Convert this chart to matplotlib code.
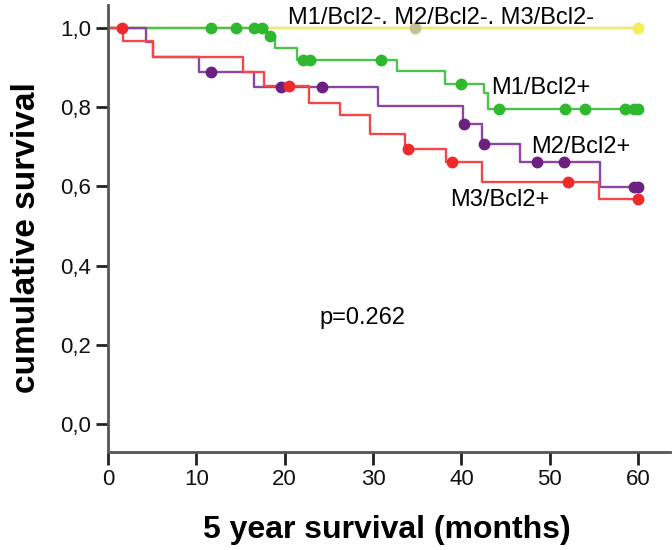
import numpy as np
import matplotlib.pyplot as plt
from matplotlib.ticker import FuncFormatter

plt.rcParams['font.family'] = ['Liberation Sans', 'DejaVu Sans']

# Kaplan-Meier steps: event times (months) and survival after each event
red_times = [0, 1.7, 5.05, 15.3, 17.6, 22.7, 26.2, 29.7, 33.6, 38.3, 42.3, 55.6]
red_surv = [1.0, 0.966, 0.925, 0.887, 0.852, 0.811, 0.779, 0.733, 0.695, 0.660, 0.611, 0.567]
red_cens = [1.55, 20.5, 33.9, 38.9, 52.1, 60.0]

purple_times = [0, 4.3, 5.05, 10.3, 16.5, 30.6, 40.2, 42.3, 46.6, 55.7]
purple_surv = [1.0, 0.964, 0.925, 0.887, 0.849, 0.803, 0.758, 0.707, 0.660, 0.597]
purple_cens = [11.7, 19.6, 24.2, 40.3, 42.6, 48.6, 51.6, 59.5, 60.0]

green_times = [0, 17.95, 18.9, 21.4, 32.7, 38.1, 42.6, 43.0]
green_surv = [1.0, 0.979, 0.948, 0.918, 0.890, 0.857, 0.834, 0.796]
green_cens = [11.7, 14.5, 16.5, 17.4, 18.3, 22.1, 22.9, 30.95, 40.0, 44.3,
              51.7, 53.96, 58.5, 59.5, 60.0]

khaki_times = [0]
khaki_surv = [1.0]
khaki_cens = [34.7]

yellow_times = [0]
yellow_surv = [1.0]
yellow_cens = [60.0]

x_ticks = [0, 10, 20, 30, 40, 50, 60]
y_ticks = [0.0, 0.2, 0.4, 0.6, 0.8, 1.0]


def km_curve(ax, times, surv, cens, line_color, mark_color, end):
    t = np.append(times, end)
    s = np.append(surv, surv[-1])
    ax.step(t, s, where='post', color=line_color, lw=1.7, zorder=2)
    idx = np.searchsorted(times, cens, side='right') - 1
    ax.plot(cens, np.array(surv)[idx], 'o', color=mark_color, ms=7.5,
            mec=mark_color, zorder=3)


fig = plt.figure(figsize=(6.72, 5.5), dpi=100)
ax = fig.add_axes([108 / 672, 98 / 550, 562 / 672, 447 / 550])

km_curve(ax, khaki_times, khaki_surv, khaki_cens, '#d8d0a0', '#c8c090', 60)
km_curve(ax, yellow_times, yellow_surv, yellow_cens, '#f2ea6c', '#f5ec5c', 60)
km_curve(ax, green_times, green_surv, green_cens, '#4cc24c', '#2eb82e', 60)
km_curve(ax, purple_times, purple_surv, purple_cens, '#8c44a6', '#6c2080', 60)
km_curve(ax, red_times, red_surv, red_cens, '#f24848', '#ee2a2a', 60)

ax.set_xlim(0, 63.6)
ax.set_ylim(-0.07, 1.057)
ax.set_xticks(x_ticks)
ax.set_yticks(y_ticks)
ax.yaxis.set_major_formatter(FuncFormatter(lambda v, p: f'{v:.1f}'.replace('.', ',')))
for side in ['top', 'right']:
    ax.spines[side].set_visible(False)
for side in ['left', 'bottom']:
    ax.spines[side].set_color('#555555')
    ax.spines[side].set_linewidth(2)
ax.tick_params(length=9, width=2, color='#222222', labelsize=16, pad=3,
               labelcolor='#111111')

ax.text(20.4, 1.024, 'M1/Bcl2-. M2/Bcl2-. M3/Bcl2-', fontsize=17, va='center')
ax.text(43.4, 0.847, 'M1/Bcl2+', fontsize=17, va='center')
ax.text(47.9, 0.699, 'M2/Bcl2+', fontsize=17, va='center')
ax.text(38.7, 0.565, 'M3/Bcl2+', fontsize=17, va='center')
ax.text(28.8, 0.267, 'p=0.262', fontsize=17, va='center', ha='center')

fig.text(27 / 672, 1 - 238 / 550, 'cumulative survival', rotation=90,
         fontsize=24, fontweight='bold', ha='center', va='center')
fig.text(387 / 672, 1 - 530 / 550, '5 year survival (months)',
         fontsize=23, fontweight='bold', ha='center', va='center')

fig.savefig('out.png', dpi=100)
